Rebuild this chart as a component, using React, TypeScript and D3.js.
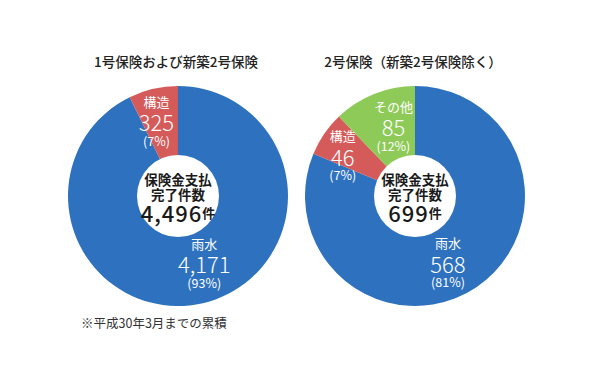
import React from "react";
import * as d3 from "d3";

const W = 600;
const H = 388;

const leftTitle = "1号保険および新築2号保険";
const rightTitle = "2号保険（新築2号保険除く）";
const footnote = "※平成30年3月までの累積";
const centerLines = ["保険金支払", "完了件数"];
const unit = "件";

const leftCategories = ["雨水", "構造"];
const leftValues = [4171, 325];
const leftPercents = ["93%", "7%"];

const rightCategories = ["雨水", "構造", "その他"];
const rightValues = [568, 46, 85];
const rightPercents = ["81%", "7%", "12%"];

const colorMap: Record<string, string> = {
  "雨水": "#2e72bf",
  "構造": "#d55a5a",
  "その他": "#8dca58",
};

// label layout: radius for centroid + small nudges
const leftLabelLayout = [
  { r: 72, dx: 10, dy: -4 },
  { r: 78, dx: -4, dy: 0 },
];
const rightLabelLayout = [
  { r: 72, dx: -7, dy: 6 },
  { r: 84, dx: -3, dy: 6 },
  { r: 74, dx: 6, dy: -2 },
];

const FONT = "'Noto Sans CJK JP', 'Noto Sans', sans-serif";
const fmt = d3.format(",");

type DonutProps = {
  cx: number;
  cy: number;
  title: string;
  categories: string[];
  values: number[];
  percents: string[];
  layout: { r: number; dx: number; dy: number }[];
};

function Donut({ cx, cy, title, categories, values, percents, layout }: DonutProps) {
  const outerR = 110;
  const innerR = 41;
  const pie = d3
    .pie<number>()
    .sort(null)
    .value((d) => d);
  const arcs = pie(values);
  const arc = d3.arc<d3.PieArcDatum<number>>().innerRadius(0).outerRadius(outerR);
  const total = d3.sum(values);

  return (
    <g transform={`translate(${cx},${cy})`}>
      <text
        x={-2}
        y={-outerR - 25}
        textAnchor="middle"
        dominantBaseline="central"
        fontSize={13.5}
        fontWeight={500}
        fill="#222"
      >
        {title}
      </text>
      {arcs.map((a, i) => (
        <path key={i} d={arc(a) || ""} fill={colorMap[categories[i]]} />
      ))}
      <circle r={innerR} fill="#fff" />
      {arcs.map((a, i) => {
        const L = layout[i];
        const la = d3.arc<d3.PieArcDatum<number>>().innerRadius(L.r).outerRadius(L.r);
        const [x, y] = la.centroid(a);
        return (
          <g key={"l" + i} transform={`translate(${x + L.dx},${y + L.dy})`} fill="#fff">
            <text y={-19} textAnchor="middle" dominantBaseline="central" fontSize={13}>
              {categories[i]}
            </text>
            <text y={1} textAnchor="middle" dominantBaseline="central" fontSize={22} fontWeight={300}>
              {fmt(values[i])}
            </text>
            <text y={20} textAnchor="middle" dominantBaseline="central" fontSize={12.5}>
              {`(${percents[i]})`}
            </text>
          </g>
        );
      })}
      <g fill="#1a1a1a">
        <text y={-17.5} textAnchor="middle" dominantBaseline="central" fontSize={13.5} fontWeight={700}>
          {centerLines[0]}
        </text>
        <text y={-2} textAnchor="middle" dominantBaseline="central" fontSize={13.5} fontWeight={700}>
          {centerLines[1]}
        </text>
        <text y={16} textAnchor="middle" dominantBaseline="central">
          <tspan fontSize={22} fontWeight={500} letterSpacing={1}>
            {fmt(total)}
          </tspan>
          <tspan fontSize={13} fontWeight={700}>
            {unit}
          </tspan>
        </text>
      </g>
    </g>
  );
}

export default function App() {
  return (
    <svg
      width={W}
      height={H}
      style={{ position: "absolute", left: 0, top: 0, background: "#fff" }}
      fontFamily={FONT}
    >
      <rect width={W} height={H} fill="#fff" />
      <Donut
        cx={178}
        cy={196}
        title={leftTitle}
        categories={leftCategories}
        values={leftValues}
        percents={leftPercents}
        layout={leftLabelLayout}
      />
      <Donut
        cx={415}
        cy={196}
        title={rightTitle}
        categories={rightCategories}
        values={rightValues}
        percents={rightPercents}
        layout={rightLabelLayout}
      />
      <text x={81} y={322} dominantBaseline="central" fontSize={12.5} fill="#333">
        {footnote}
      </text>
    </svg>
  );
}
